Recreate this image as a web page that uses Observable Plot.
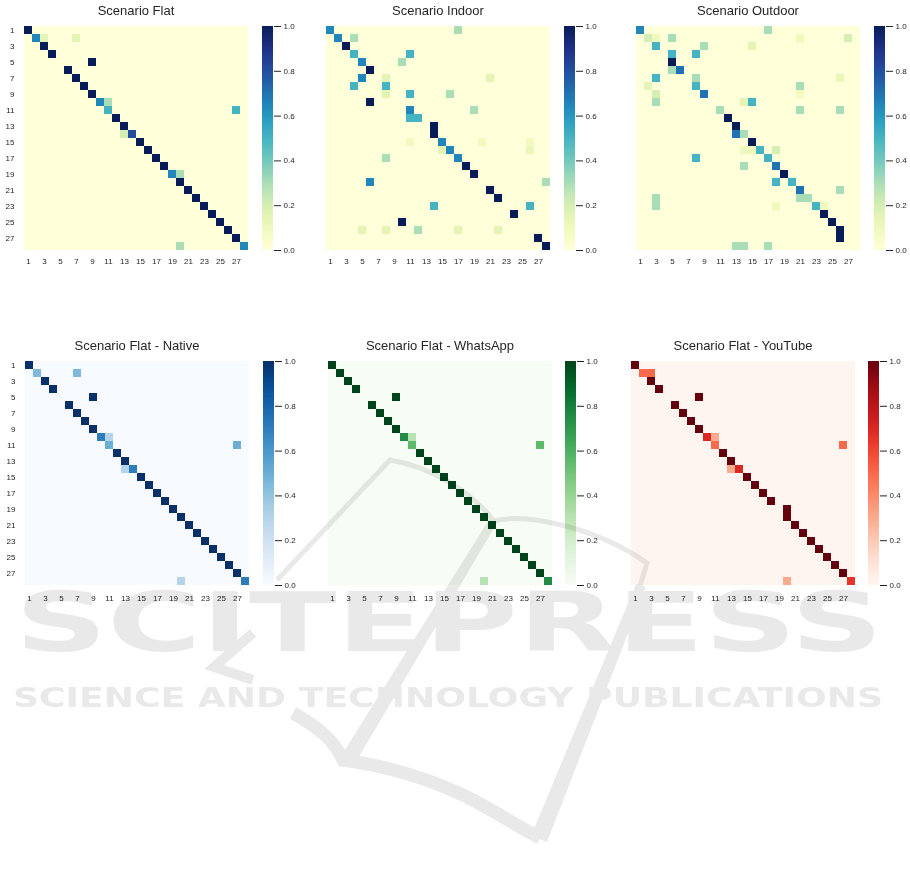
<!DOCTYPE html>
<html><head><meta charset="utf-8">
<script src="https://cdn.jsdelivr.net/npm/d3@7"></script>
<script src="https://cdn.jsdelivr.net/npm/@observablehq/plot@0.6"></script>
<style>
html,body{margin:0;padding:0;background:#fff;}
#page{position:relative;width:910px;height:881px;overflow:hidden;font-family:"Liberation Sans",Arial,sans-serif;}
.title{position:absolute;width:224px;text-align:center;font-size:13px;line-height:13px;color:#262626;white-space:nowrap;}
.panel{position:absolute;}
.panel svg{max-width:none !important;}
#wm{position:absolute;left:0;top:0;pointer-events:none;mix-blend-mode:multiply;}
</style></head><body><div id="page"></div>
<script>
// ---- data ----
const classes = [1,2,3,4,5,6,7,8,9,10,11,12,13,14,15,16,17,18,19,20,21,22,23,24,25,26,27,28];
const tickLabels = [1,3,5,7,9,11,13,15,17,19,21,23,25,27];
const colorTicks = [0.0,0.2,0.4,0.6,0.8,1.0];
const titles = ["Scenario Flat","Scenario Indoor","Scenario Outdoor","Scenario Flat - Native","Scenario Flat - WhatsApp","Scenario Flat - YouTube"];
const schemes = ["YlGnBu","YlGnBu","YlGnBu","Blues","Greens","Reds"];

// [row (true), col (predicted), value]
const flatCells = [[1,1,1],[2,2,0.65],[2,3,0.15],[2,7,0.15],[3,3,1],[4,4,1],[5,9,1],[6,6,1],[7,7,1],[8,8,1],[9,9,1],
  [10,10,0.65],[10,11,0.3],[11,11,0.5],[11,27,0.5],[12,12,1],[13,13,1],[14,13,0.2],[14,14,0.8],[15,15,1],[16,16,1],
  [17,17,1],[18,18,1],[19,19,0.65],[19,20,0.3],[20,20,1],[21,21,1],[22,22,1],[23,23,1],[24,24,1],[25,25,1],[26,26,1],
  [27,27,1],[28,20,0.3],[28,28,0.65]];
const indoorCells = [[1,1,0.65],[1,17,0.3],[2,2,0.65],[2,4,0.3],[3,3,1],[4,4,0.5],[4,11,0.5],[5,5,0.65],[5,10,0.3],
  [6,6,1],[7,5,0.65],[7,8,0.15],[7,21,0.15],[8,4,0.5],[8,8,0.5],[9,8,0.15],[9,11,0.5],[9,16,0.3],[10,6,1],
  [11,11,0.65],[11,19,0.3],[12,11,0.5],[12,12,0.5],[13,14,1],[14,14,1],[15,11,0.08],[15,15,0.65],[15,20,0.08],
  [15,26,0.08],[16,15,0.15],[16,16,0.65],[16,26,0.12],[17,8,0.3],[17,17,0.65],[18,18,1],[19,19,1],[20,6,0.65],
  [20,28,0.3],[21,21,1],[22,22,1],[23,14,0.5],[23,26,0.5],[24,24,1],[25,10,1],[26,5,0.15],[26,8,0.15],[26,12,0.3],
  [26,17,0.15],[26,22,0.15],[27,27,1],[28,28,1]];
const outdoorCells = [[1,1,0.65],[1,17,0.3],[2,2,0.2],[2,3,0.1],[2,5,0.3],[2,21,0.1],[2,27,0.2],[3,3,0.5],[3,9,0.3],
  [3,15,0.15],[4,5,0.5],[4,8,0.5],[5,5,1],[6,5,0.3],[6,6,0.7],[7,3,0.5],[7,8,0.3],[7,26,0.12],[8,2,0.15],[8,8,0.5],
  [8,21,0.3],[9,3,0.2],[9,9,0.7],[9,21,0.08],[10,3,0.3],[10,14,0.15],[10,15,0.5],[11,11,0.3],[11,21,0.3],[11,26,0.3],
  [12,12,1],[13,13,1],[14,13,0.7],[14,14,0.3],[15,15,1],[16,14,0.1],[16,15,0.1],[16,16,0.5],[16,18,0.2],[17,8,0.5],
  [17,17,0.5],[18,14,0.3],[18,18,0.7],[19,19,1],[20,18,0.5],[20,20,0.5],[21,21,0.7],[21,26,0.3],[22,3,0.3],[22,21,0.3],
  [22,22,0.3],[23,3,0.3],[23,18,0.1],[23,23,0.5],[23,24,0.1],[24,24,1],[25,25,1],[26,26,1],[27,26,1],[28,13,0.3],
  [28,14,0.3],[28,17,0.3]];
const nativeCells = [[1,1,1],[2,2,0.45],[2,7,0.45],[3,3,1],[4,4,1],[5,9,1],[6,6,1],[7,7,1],[8,8,1],[9,9,1],
  [10,10,0.7],[10,11,0.3],[11,11,0.5],[11,27,0.5],[12,12,1],[13,13,1],[14,13,0.3],[14,14,0.7],[15,15,1],[16,16,1],
  [17,17,1],[18,18,1],[19,19,1],[20,20,1],[21,21,1],[22,22,1],[23,23,1],[24,24,1],[25,25,1],[26,26,1],[27,27,1],
  [28,20,0.3],[28,28,0.7]];
const whatsappCells = [[1,1,1],[2,2,1],[3,3,1],[4,4,1],[5,9,1],[6,6,1],[7,7,1],[8,8,1],[9,9,1],
  [10,10,0.75],[10,11,0.3],[11,11,0.55],[11,27,0.55],[12,12,1],[13,13,1],[14,14,1],[15,15,1],[16,16,1],
  [17,17,1],[18,18,1],[19,19,1],[20,20,1],[21,21,1],[22,22,1],[23,23,1],[24,24,1],[25,25,1],[26,26,1],[27,27,1],
  [28,20,0.3],[28,28,0.75]];
const youtubeCells = [[1,1,1],[2,2,0.5],[2,3,0.5],[3,3,1],[4,4,1],[5,9,1],[6,6,1],[7,7,1],[8,8,1],[9,9,1],
  [10,10,0.7],[10,11,0.3],[11,11,0.5],[11,27,0.5],[12,12,1],[13,13,1],[14,13,0.3],[14,14,0.7],[15,15,1],[16,16,1],
  [17,17,1],[18,18,1],[19,20,1],[20,20,1],[21,21,1],[22,22,1],[23,23,1],[24,24,1],[25,25,1],[26,26,1],[27,27,1],
  [28,20,0.3],[28,28,0.65]];
const allCells = [flatCells, indoorCells, outdoorCells, nativeCells, whatsappCells, youtubeCells];

// ---- layout ----
const layout = [
  {hx:24, hy:26, cbx:262, showY:true, pad:7.5, titleTop:4},
  {hx:326, hy:26, cbx:564, showY:false, pad:7.5, titleTop:4},
  {hx:636, hy:26, cbx:874, showY:false, pad:7.5, titleTop:4},
  {hx:25, hy:361, cbx:263, showY:true, pad:10, titleTop:339},
  {hx:328, hy:361, cbx:565, showY:false, pad:10, titleTop:339},
  {hx:631, hy:361, cbx:868, showY:false, pad:10, titleTop:339}
];
const S = 224, ML = 30, MB = 22;
const font = '"Liberation Sans", Arial, sans-serif';
const page = document.getElementById("page");

allCells.forEach((cells, i) => {
  const L = layout[i];
  const lookup = new Map(cells.map(([r, c, v]) => [r + "-" + c, v]));
  const grid = classes.flatMap(r => classes.map(c => ({row: r, col: c, value: lookup.get(r + "-" + c) ?? 0})));
  const color = {type: "linear", scheme: schemes[i], domain: [0, 1]};

  const hm = Plot.plot({
    width: ML + S, height: S + MB,
    marginLeft: ML, marginRight: 0, marginTop: 0, marginBottom: MB,
    x: {domain: classes, padding: 0, label: null, axis: null},
    y: {domain: classes, padding: 0, label: null, axis: null},
    color,
    style: {fontFamily: font, fontSize: "8px", color: "#262626", background: "transparent", overflow: "visible", maxWidth: "none"},
    marks: [
      Plot.cell(grid, {x: "col", y: "row", fill: "value", inset: 0}),
      Plot.axisX(tickLabels, {anchor: "bottom", tickSize: 0, tickPadding: L.pad}),
      L.showY ? Plot.axisY(tickLabels, {anchor: "left", tickSize: 0, tickPadding: 10}) : null
    ]
  });
  const d1 = document.createElement("div");
  d1.className = "panel";
  d1.style.left = (L.hx - ML) + "px";
  d1.style.top = L.hy + "px";
  d1.style.width = (ML + S) + "px";
  d1.appendChild(hm);
  page.appendChild(d1);

  const ramp = d3.range(0, 1, 0.005);
  const cb = Plot.plot({
    width: 11 + 34, height: S,
    marginLeft: 0, marginRight: 34, marginTop: 0, marginBottom: 0,
    x: {domain: [0, 1], axis: null, label: null},
    y: {domain: [0, 1], label: null, axis: null},
    color,
    style: {fontFamily: font, fontSize: "8px", color: "#262626", background: "transparent", overflow: "visible", maxWidth: "none"},
    marks: [
      Plot.rect(ramp, {x1: 0, x2: 1, y1: d => d, y2: d => Math.min(1, d + 0.0065), fill: d => d + 0.0025, shapeRendering: "crispEdges"}),
      Plot.axisY(colorTicks, {anchor: "right", tickSize: 7, tickPadding: 3, tickFormat: d3.format(".1f")})
    ]
  });
  const d2 = document.createElement("div");
  d2.className = "panel";
  d2.style.left = L.cbx + "px";
  d2.style.top = L.hy + "px";
  d2.style.width = "45px";
  d2.appendChild(cb);
  page.appendChild(d2);

  const t = document.createElement("div");
  t.className = "title";
  t.style.left = L.hx + "px";
  t.style.top = L.titleTop + "px";
  t.textContent = titles[i];
  page.appendChild(t);
});

// ---- publisher watermark ----
const NS = "http://www.w3.org/2000/svg";
const wm = document.createElementNS(NS, "svg");
wm.setAttribute("id", "wm");
wm.setAttribute("width", 910);
wm.setAttribute("height", 881);
wm.innerHTML = `
<g fill="#e9e9e9" stroke="none">
  <text x="15" y="651" font-family="DejaVu Sans" font-weight="bold" font-size="82" textLength="868" lengthAdjust="spacingAndGlyphs">SCITEPRESS</text>
  <text x="13" y="707" font-family="DejaVu Sans" font-weight="bold" font-size="26" textLength="870" lengthAdjust="spacingAndGlyphs">SCIENCE AND TECHNOLOGY PUBLICATIONS</text>
  <polygon points="636,584 646,587 547,842 531,836"/>
  <polygon points="490,518 497,523 357,760 343,753"/>
</g>
<g fill="none" stroke="#e9e9e9">
  <path d="M277,580 L390,460 C428,466 470,490 493,520" stroke-width="5"/>
  <path d="M493,521 C530,512 600,530 647,563 L640,586" stroke-width="5"/>
  <path d="M253,633 L214,667 L253,680" stroke-width="10"/>
  <path d="M293,713 C320,728 335,742 343,760 C380,765 420,775 463,795 C490,808 515,825 540,838" stroke-width="13"/>
</g>`;
page.appendChild(wm);
</script>
</body></html>
